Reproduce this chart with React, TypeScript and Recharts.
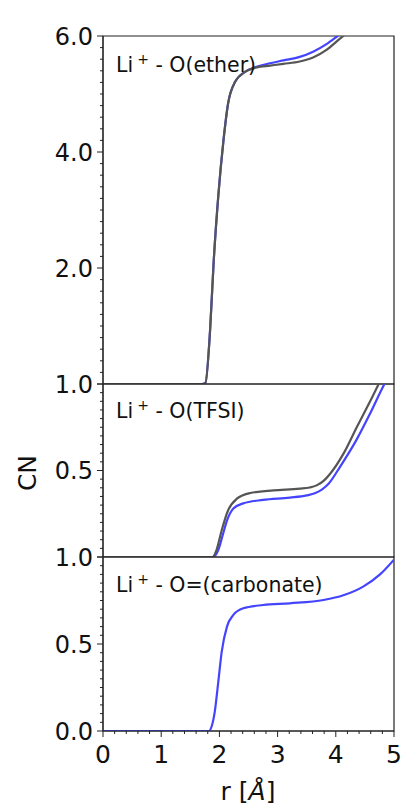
import React from 'react';
import { LineChart, Line, XAxis, YAxis, ReferenceArea } from 'recharts';

// Li+ - O(ether)
const R_ETHER = [0, 1.0, 1.7, 1.76, 1.84, 1.9, 1.98, 2.07, 2.15, 2.27, 2.44, 2.64, 2.87, 3.1, 3.38, 3.61, 3.84, 4.03, 4.2, 4.5, 5.0];
const ETHER_BLUE = [0, 0, 0, 0.02, 0.93, 2.08, 3.23, 4.2, 4.84, 5.21, 5.38, 5.47, 5.53, 5.58, 5.64, 5.73, 5.86, 6.0, 6.13, 6.38, 6.75];
const ETHER_GRAY = [0, 0, 0, 0.02, 0.93, 2.08, 3.23, 4.2, 4.84, 5.21, 5.38, 5.46, 5.49, 5.52, 5.56, 5.63, 5.76, 5.92, 6.06, 6.3, 6.7];

// Li+ - O(TFSI)
const R_TFSI_GRAY = [0, 1.0, 1.88, 1.95, 2.04, 2.15, 2.3, 2.53, 2.93, 3.38, 3.55, 3.67, 3.79, 3.9, 4.13, 4.36, 4.59, 4.8, 5.0];
const TFSI_GRAY = [0, 0, 0, 0.04, 0.155, 0.27, 0.337, 0.37, 0.385, 0.395, 0.402, 0.414, 0.44, 0.48, 0.596, 0.75, 0.9, 1.04, 1.15];
const R_TFSI_BLUE = [0, 1.0, 1.9, 1.98, 2.06, 2.13, 2.24, 2.41, 2.75, 3.21, 3.5, 3.65, 3.76, 3.88, 4.07, 4.36, 4.59, 4.82, 5.0];
const TFSI_BLUE = [0, 0, 0, 0.04, 0.13, 0.21, 0.28, 0.31, 0.33, 0.343, 0.356, 0.37, 0.39, 0.425, 0.52, 0.68, 0.83, 0.99, 1.1];

// Li+ - O=(carbonate)
const R_CARB = [0, 1.0, 1.82, 1.87, 1.92, 1.98, 2.04, 2.13, 2.24, 2.41, 2.75, 3.21, 3.79, 4.13, 4.47, 4.76, 5.0];
const CARB_BLUE = [0, 0, 0, 0.03, 0.11, 0.28, 0.456, 0.6, 0.667, 0.705, 0.724, 0.734, 0.753, 0.78, 0.83, 0.9, 0.985];

const X_LABELS = [0, 1, 2, 3, 4, 5];
const TOP_LABELS = [2, 4, 6];
const MID_LABELS = [0.5, 1.0];
const BOT_LABELS = [0, 0.5, 1.0];

const BLUE = '#4444ff';
const GRAY = '#555555';
const AXIS = '#222222';
const FONT = '"DejaVu Sans", sans-serif';
const W = 406;
const H = 806;
const LEFT = 103;
const RIGHT = 12;

const toRows = (r: number[], v: number[]) => r.map((x, i) => ({ r: x, cn: v[i] }));

const tickList = (max: number, step: number) =>
  Array.from({ length: Math.round(max / step) + 1 }, (_, i) => +(i * step).toFixed(4));

const near = (a: number, b: number) => Math.abs(a - b) < 1e-6;

const YTick = (props: any) => {
  const { x, y, payload, majorStep, labels, digits } = props;
  const v = payload.value;
  const major = near(v / majorStep, Math.round(v / majorStep));
  const showLabel = labels.some((l: number) => near(l, v));
  return (
    <g>
      <line x1={x - (major ? 6 : 3)} x2={x} y1={y} y2={y} stroke={AXIS} strokeWidth={1} />
      {showLabel && (
        <text x={x - 10} y={y} dy="0.36em" textAnchor="end" fontSize={24} fontFamily={FONT} fill="#111">
          {v.toFixed(digits)}
        </text>
      )}
    </g>
  );
};

const XTick = (props: any) => {
  const { x, y, payload } = props;
  const v = payload.value;
  const major = X_LABELS.some((l) => near(l, v));
  return (
    <g>
      <line x1={x} x2={x} y1={y} y2={y + (major ? 6 : 3)} stroke={AXIS} strokeWidth={1} />
      {major && (
        <text x={x} y={y + 32} textAnchor="middle" fontSize={25} fontFamily={FONT} fill="#111">
          {v}
        </text>
      )}
    </g>
  );
};

interface Series {
  name: string;
  data: { r: number; cn: number }[];
  color: string;
}

interface PanelProps {
  top: number;
  bottom: number;
  ymax: number;
  minorStep: number;
  majorStep: number;
  labels: number[];
  digits: number;
  series: Series[];
  showX?: boolean;
}

const Panel = ({ top, bottom, ymax, minorStep, majorStep, labels, digits, series, showX }: PanelProps) => (
  <div style={{ position: 'absolute', left: 0, top: 0 }}>
    <LineChart width={W} height={H} margin={{ top, right: RIGHT, bottom, left: 0 }}>
      <XAxis
        type="number"
        dataKey="r"
        domain={[0, 5]}
        allowDataOverflow
        hide={!showX}
        height={70}
        ticks={tickList(5, 0.2)}
        interval={0}
        tickSize={0}
        tickMargin={0}
        tickLine={false}
        tick={(p: any) => <XTick {...p} />}
        axisLine={{ stroke: AXIS }}
      />
      <YAxis
        type="number"
        domain={[0, ymax]}
        allowDataOverflow
        width={LEFT}
        ticks={tickList(ymax, minorStep)}
        interval={0}
        tickSize={0}
        tickMargin={0}
        tickLine={false}
        tick={(p: any) => <YTick {...p} majorStep={majorStep} labels={labels} digits={digits} />}
        axisLine={{ stroke: AXIS }}
      />
      <ReferenceArea x1={0} x2={5} y1={0} y2={ymax} fill="none" stroke={AXIS} strokeWidth={1.2} ifOverflow="visible" />
      {series.map((s) => (
        <Line
          key={s.name}
          data={s.data}
          dataKey="cn"
          type="monotone"
          stroke={s.color}
          strokeWidth={2.2}
          dot={false}
          isAnimationActive={false}
        />
      ))}
    </LineChart>
  </div>
);

const PanelLabel = ({ x, y, rest }: { x: number; y: number; rest: string }) => (
  <text x={x} y={y} fontSize={20.5} fontFamily={FONT} fill="#111">
    Li
    <tspan dx={4} dy={-8} fontSize={14}>+</tspan>
    <tspan dy={8} fontSize={20.5}>{' - ' + rest}</tspan>
  </text>
);

export default function App() {
  return (
    <div style={{ position: 'absolute', left: 0, top: 0, width: W, height: H, background: '#fff' }}>
      <Panel
        top={36}
        bottom={422}
        ymax={6}
        minorStep={0.2}
        majorStep={2}
        labels={TOP_LABELS}
        digits={1}
        series={[
          { name: 'ether-blue', data: toRows(R_ETHER, ETHER_BLUE), color: BLUE },
          { name: 'ether-gray', data: toRows(R_ETHER, ETHER_GRAY), color: GRAY },
        ]}
      />
      <Panel
        top={384}
        bottom={249}
        ymax={1}
        minorStep={0.05}
        majorStep={0.5}
        labels={MID_LABELS}
        digits={1}
        series={[
          { name: 'tfsi-blue', data: toRows(R_TFSI_BLUE, TFSI_BLUE), color: BLUE },
          { name: 'tfsi-gray', data: toRows(R_TFSI_GRAY, TFSI_GRAY), color: GRAY },
        ]}
      />
      <Panel
        top={557}
        bottom={5}
        ymax={1}
        minorStep={0.05}
        majorStep={0.5}
        labels={BOT_LABELS}
        digits={1}
        showX
        series={[{ name: 'carb-blue', data: toRows(R_CARB, CARB_BLUE), color: BLUE }]}
      />
      <svg width={W} height={H} style={{ position: 'absolute', left: 0, top: 0, pointerEvents: 'none' }}>
        <PanelLabel x={116} y={72} rest="O(ether)" />
        <PanelLabel x={116} y={418} rest="O(TFSI)" />
        <PanelLabel x={116} y={592} rest="O=(carbonate)" />
        <text x={36} y={473} transform="rotate(-90 36 473)" textAnchor="middle" fontSize={25} fontFamily={FONT} fill="#111">
          CN
        </text>
        <text x={248} y={800} textAnchor="middle" fontSize={25} fontFamily={FONT} fill="#111">
          r [<tspan fontStyle="italic">Å</tspan>]
        </text>
      </svg>
    </div>
  );
}
